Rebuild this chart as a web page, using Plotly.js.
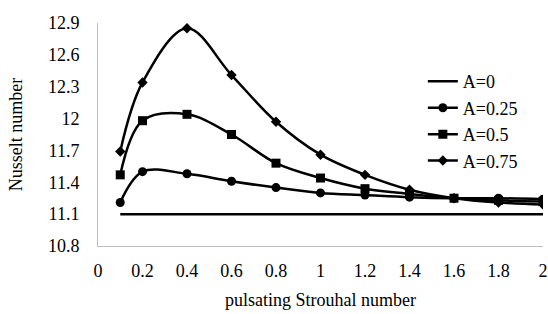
<!DOCTYPE html>
<html>
<head>
<meta charset="utf-8">
<script src="https://cdn.plot.ly/plotly-3.0.1.min.js"></script>
<style>html,body{margin:0;padding:0;background:#fff;}#chart{width:548px;height:314px;}</style>
</head>
<body>
<div id="chart"></div>
<script>
var strouhal = [0.1, 0.2, 0.4, 0.6, 0.8, 1.0, 1.2, 1.4, 1.6, 1.8, 2.0];
var nuA0    = [11.1, 11.1, 11.1, 11.1, 11.1, 11.1, 11.1, 11.1, 11.1, 11.1, 11.1];
var nuA025  = [11.21, 11.50, 11.48, 11.41, 11.35, 11.30, 11.28, 11.26, 11.25, 11.25, 11.24];
var nuA05   = [11.47, 11.98, 12.04, 11.85, 11.58, 11.44, 11.34, 11.29, 11.25, 11.23, 11.22];
var nuA075  = [11.69, 12.34, 12.85, 12.41, 11.97, 11.66, 11.47, 11.33, 11.25, 11.21, 11.19];
var seriesNames = ['A=0', 'A=0.25', 'A=0.5', 'A=0.75'];
var xTicks = [0, 0.2, 0.4, 0.6, 0.8, 1, 1.2, 1.4, 1.6, 1.8, 2];
var yTicks = [10.8, 11.1, 11.4, 11.7, 12, 12.3, 12.6, 12.9];

var font = 'Liberation Serif';
function tr(y, name, sym, size, mode) {
  return {
    x: strouhal, y: y, name: name, type: 'scatter', mode: mode,
    line: {color: '#000', width: 2.5, shape: 'spline', smoothing: 1},
    marker: {symbol: sym, size: size, color: '#000'}
  };
}
var data = [
  tr(nuA0, seriesNames[0], 'circle', 0, 'lines'),
  tr(nuA025, seriesNames[1], 'circle', 9, 'lines+markers'),
  tr(nuA05, seriesNames[2], 'square', 9, 'lines+markers'),
  tr(nuA075, seriesNames[3], 'diamond', 8, 'lines+markers')
];
var layout = {
  width: 548, height: 314,
  margin: {l: 98, r: 5, t: 23, b: 68},
  paper_bgcolor: '#fff', plot_bgcolor: '#fff',
  font: {family: font, size: 18, color: '#000'},
  showlegend: true,
  legend: {x: 0.73, y: 0.82, xanchor: 'left', yanchor: 'top', bgcolor: 'rgba(0,0,0,0)',
           font: {family: font, size: 18, color: '#000'}},
  xaxis: {
    range: [0, 2], tickvals: xTicks, ticktext: xTicks.map(String),
    showgrid: false, zeroline: false, showline: true, linecolor: '#bfbfbf', linewidth: 1,
    ticks: 'outside', ticklen: 8, tickcolor: 'rgba(0,0,0,0)', tickfont: {family: font, size: 18},
    title: {text: 'pulsating Strouhal number', font: {family: font, size: 18}, standoff: 13}
  },
  yaxis: {
    range: [10.8, 12.9], tickvals: yTicks, ticktext: yTicks.map(String),
    showgrid: false, zeroline: false, showline: true, linecolor: '#bfbfbf', linewidth: 1,
    ticks: 'outside', ticklen: 14, tickcolor: 'rgba(0,0,0,0)', tickfont: {family: font, size: 18},
    title: {text: 'Nusselt number', font: {family: font, size: 18}, standoff: 20}
  }
};
Plotly.newPlot('chart', data, layout, {displayModeBar: false, staticPlot: true});
</script>
</body>
</html>
